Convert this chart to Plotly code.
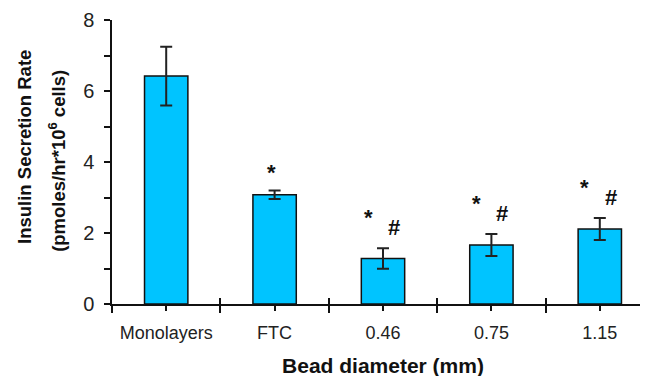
import plotly.graph_objects as go

categories = ["Monolayers", "FTC", "0.46", "0.75", "1.15"]
values = [6.42, 3.08, 1.28, 1.66, 2.11]
errors = [0.83, 0.12, 0.29, 0.31, 0.31]
star_marks = [False, True, True, True, True]
hash_marks = [False, False, True, True, True]

xpos = list(range(len(categories)))
FONT = "Liberation Sans, Arial, sans-serif"
xr = [-0.5, 4.5]

fig = go.Figure()
fig.add_trace(go.Bar(
    x=xpos, y=values, width=0.4,
    marker=dict(color="#00C4FF", line=dict(color="#111111", width=1.5)),
    error_y=dict(type="data", array=errors, color="#222222", thickness=2, width=6),
    showlegend=False, hoverinfo="skip",
))
# invisible trace for overlay axis (boundary ticks that cross the axis line)
fig.add_trace(go.Scatter(x=[0], y=[0], xaxis="x2", mode="markers",
                         marker=dict(opacity=0), showlegend=False, hoverinfo="skip"))

for i, (v, e) in enumerate(zip(values, errors)):
    top = v + e
    if star_marks[i] and not hash_marks[i]:
        fig.add_annotation(x=i, y=top, text="<b>*</b>", showarrow=False,
                           xanchor="center", yanchor="middle",
                           xshift=-3, yshift=18, font=dict(size=22, family=FONT, color="#111"))
    elif star_marks[i]:
        fig.add_annotation(x=i, y=top, text="<b>*</b>", showarrow=False,
                           xanchor="center", yanchor="middle",
                           xshift=-15, yshift=31, font=dict(size=22, family=FONT, color="#111"))
    if hash_marks[i]:
        fig.add_annotation(x=i, y=top, text="<b>#</b>", showarrow=False,
                           xanchor="center", yanchor="middle",
                           xshift=11, yshift=21, font=dict(size=22, family=FONT, color="#111"))

fig.add_annotation(xref="paper", yref="paper", x=0, y=0.553, xshift=-87,
                   xanchor="center", yanchor="middle",
                   text="<b>Insulin Secretion Rate</b>", textangle=-90, showarrow=False,
                   font=dict(size=18.5, family=FONT, color="#111"))
fig.add_annotation(xref="paper", yref="paper", x=0, y=0.504, xshift=-55,
                   xanchor="center", yanchor="middle",
                   text="<b>(pmoles/hr*10<sup>6</sup> cells)</b>", textangle=-90, showarrow=False,
                   font=dict(size=18.5, family=FONT, color="#111"))

# page body adds an 8 px offset; margins compensate so the plot lands where the reference has it
fig.update_layout(
    width=648, height=376,
    margin=dict(l=104, r=2, t=12, b=80, autoexpand=False),
    plot_bgcolor="white", paper_bgcolor="white",
    font=dict(family=FONT, size=18, color="#222"),
    xaxis=dict(
        range=xr, tickmode="array", tickvals=xpos, ticktext=categories,
        showline=True, linecolor="#111", linewidth=1.5,
        ticks="outside", ticklen=5, tickcolor="#111", tickwidth=1.5,
        minor=dict(tick0=-0.5, dtick=1, ticks="outside", ticklen=7, tickcolor="#111", tickwidth=1.5),
        showgrid=False, zeroline=False, automargin=False,
        ticklabelstandoff=7,
        title=dict(text="<b>Bead diameter (mm)</b>", font=dict(size=21, family=FONT, color="#111"), standoff=16),
        tickfont=dict(size=18, color="#222"),
    ),
    xaxis2=dict(
        range=xr, overlaying="x", anchor="y", side="bottom",
        tickmode="linear", tick0=-0.5, dtick=1,
        ticks="inside", ticklen=6, tickcolor="#111", tickwidth=1.5,
        showticklabels=False, showline=False, showgrid=False, zeroline=False, automargin=False,
    ),
    yaxis=dict(
        range=[0, 8], tickmode="linear", tick0=0, dtick=2,
        showline=True, linecolor="#111", linewidth=1.5,
        ticks="outside", ticklen=6, tickcolor="#111", tickwidth=1.5,
        minor=dict(dtick=1, ticks="outside", ticklen=6, tickcolor="#111", tickwidth=1.5),
        showgrid=False, zeroline=False, automargin=False,
        ticklabelstandoff=6,
        tickfont=dict(size=20, color="#222"),
    ),
)

fig.write_html("out.html")
